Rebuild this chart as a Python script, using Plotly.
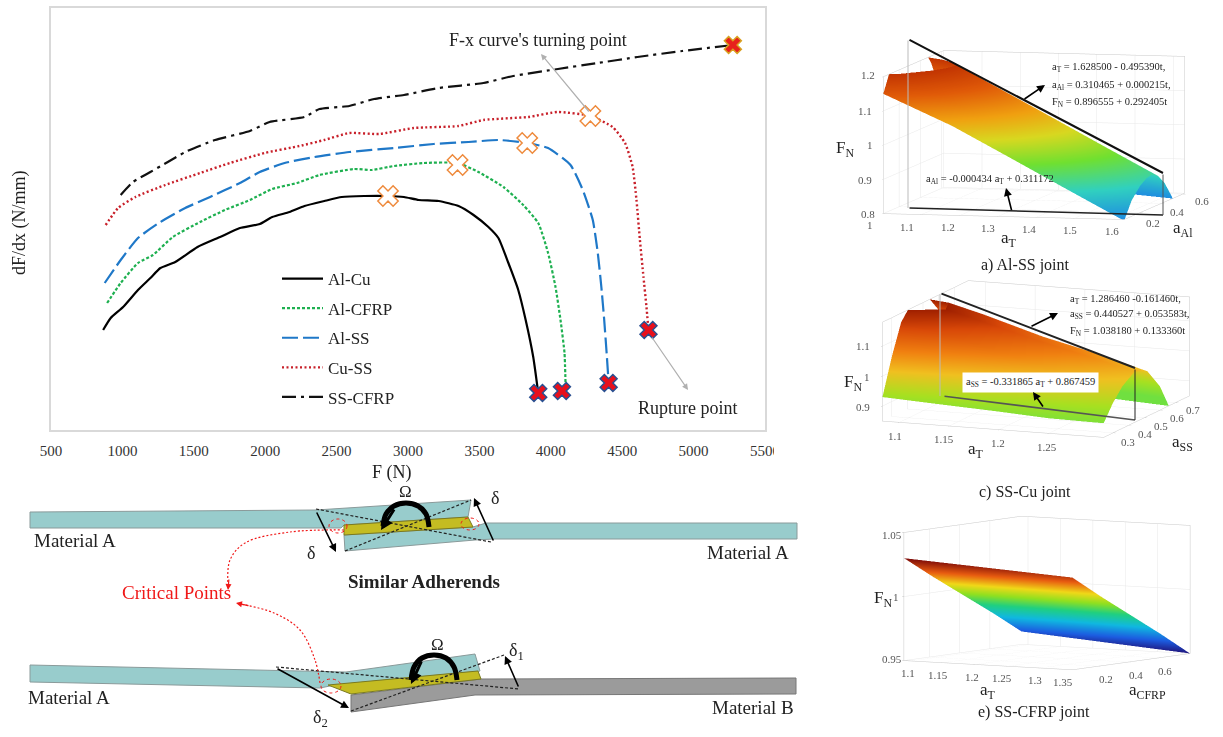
import plotly.graph_objects as go

W, H = 1223, 737
SERIF = "Liberation Serif"

# ---------- main curve chart data (F in N, dF/dx in arbitrary units)
F_AlCu = [865,918,1005,1109,1196,1266,1370,1526,1684,1823,1962,2049,2170,2275,2414,2536,2693,2860,2972,3075,3215,3354,3459,3563,3633,3703,3772,3824,3877,3912]
S_AlCu = [100,112,123,140,152,162,168,183,193,202,206,213,218,224,229,233,234,234,233,230,229,224,215,203,192,167,140,110,73,37]
F_AlCFRP = [893,988,1109,1214,1353,1544,1718,1893,2049,2223,2380,2623,2745,2902,3110,3347,3493,3668,3807,3912,3981,4033,4068,4096,4103]
S_AlCFRP = [127,147,167,175,193,208,220,230,241,247,255,261,260,264,267,267,258,243,225,207,177,143,110,77,47]
F_AlSS = [876,988,1109,1266,1440,1614,1823,1962,2136,2345,2589,2902,3180,3424,3633,3835,3981,4138,4224,4294,4329,4354,4374,4391,4405]
S_AlSS = [147,170,192,208,222,233,247,258,267,273,278,282,286,288,290,287,282,265,240,210,177,143,110,77,47]
F_CuSS = [883,970,1091,1300,1544,1753,1996,2240,2414,2589,2798,3041,3354,3528,3842,4050,4277,4433,4520,4573,4600,4624,4649,4670,4684]
S_CuSS = [205,222,233,245,257,267,277,284,290,297,296,302,304,310,313,318,314,303,287,263,230,190,153,123,100]
F_SSCFRP = [988,1074,1196,1318,1440,1649,1893,2031,2275,2380,2589,2763,2972,3215,3528,3737,4050,4329,4607,4921,5275]
S_SSCFRP = [235,248,258,268,278,290,299,308,313,321,324,331,335,342,347,354,361,367,373,379,385]
TURN_F = [2860,3347,3835,4277]
TURN_S = [234,265,287,314]
RUPT_F = [3912,4078,4405,4684]
RUPT_S = [37,39,47,100]
LAST_F = [5275]
LAST_S = [385]
X_TICKS = [500,1000,1500,2000,2500,3000,3500,4000,4500,5000,5500]

# ---------- surface panels
A_T = [1.0,1.18,1.33,1.48,1.63]
A_AL = [.05,.12,.2,.26,.31,.37,.43,.5,.62]
FN_A = [[1.15,1.215,1.25,1.265,1.27,1.258,1.23,1.18,1.05],
        [1.061,1.111,1.143,1.157,1.161,1.149,1.121,1.071,.941],
        [.973,1.023,1.055,1.069,1.073,1.061,1.033,.983,.853],
        [.884,.934,.966,.98,.984,.972,.944,.894,.764],
        [.796,.846,.878,.892,.896,.884,.856,.806,.676]]
C_T = [1.083,1.14,1.2,1.25,1.305]
C_SS = [.24,.3,.36,.44,.52,.6,.65,.72]
FN_C = [[.93,1.05,1.15,1.206,1.20,1.13,1.05,.94],
        [.92,1.02,1.11,1.16,1.15,1.08,1.01,.90],
        [.91,.99,1.06,1.105,1.09,1.03,.95,.84],
        [.90,.97,1.02,1.065,1.05,.98,.91,.80],
        [.897,.95,.99,1.02,1.0,.93,.86,.75]]
E_T = [1.09,1.22,1.35]
E_CF = [.03,.22,.42,.62,.81]
FN_E = [[1.03,1.0125,.995,.9775,.96],
        [1.026,1.0085,.991,.9735,.955],
        [1.022,1.004,.986,.968,.95]]

# ---------- 3D tick labels: (text, canvas x, canvas y)
TICKS_A = [("1.2",868,75),("1.1",865,111),("1",870,145),("0.9",865,180),("0.8",868,214),
           ("1",870,225),("1.1",907,227),("1.2",948,227),("1.3",988,228),("1.4",1029,229),("1.5",1070,230),("1.6",1112,231),
           ("0.2",1153,223),("0.4",1177,212),("0.6",1202,201)]
TICKS_C = [("1.1",863,346),("1",867,377),("0.9",863,407),
           ("1.1",895,436),("1.15",944,439),("1.2",998,443),("1.25",1047,447),
           ("0.3",1128,442),("0.4",1145,434),("0.5",1161,426),("0.6",1177,418),("0.7",1193,410)]
TICKS_E = [("1.05",892,535),("1",896,597),("0.95",892,659),
           ("1.1",908,673),("1.15",938,675),("1.2",972,677),("1.25",1002,678),("1.3",1035,680),("1.35",1063,682),
           ("0.2",1106,679),("0.4",1136,675),("0.6",1165,671)]
# guide lines drawn over the surfaces: x0, y0, x1, y1, colour, width
GUIDES = [(908,39,1163,173,"#111111",2),(908,208,1163,215,"#222222",1.5),(908,39,908,208,"#bbbbbb",1),(1163,173,1163,215,"#555555",1),
          (940,293,1135,368,"#222222",2),(943,396,1135,420,"#555555",1.5),(1135,368,1135,420,"#222222",1),(940,293,940,396,"#bbbbbb",1)]

# ---------- schematic outlines (canvas pixels)
TOP_UPPER = [(30,512),(316,510),(471,500),(468,517),(344,525),(341,528),(30,528)]
TOP_GLUE = [(344,525),(468,517),(473,527),(344,535)]
TOP_LOWER = [(344,535),(473,527),(486,523),(797,523),(797,539),(494,539),(475,540),(345,551)]
BOT_UPPER = [(30,665),(276,670),(346,672),(475,654),(480,671),(335,685),(320,688),(30,682)]
BOT_GLUE = [(328,685),(478,671),(481,679),(351,694)]
BOT_LOWER = [(351,695),(481,679),(796,678),(796,694),(475,695),(351,712)]
ARC_TOP = [(383,526),(386,514),(394,506),(406,503),(418,506),(426,514),(429,527)]
ARC_BOT = [(411,680),(414,667),(422,658),(434,655),(446,658),(454,667),(457,680)]
DASHES = [[(316,509),(491,542)],[(345,551),(471,500)],[(276,667),(519,689)],[(351,711),(504,655)]]
RED_TOP = [(344,530),(290,532),(245,543),(230,560),(228,585)]
RED_BOT = [(320,683),(315,660),(300,630),(274,613),(240,604)]

fig = go.Figure()

def line_trace(x, y, name, color, dash, width=2.2):
    fig.add_trace(go.Scatter(x=x, y=y, mode="lines", name=name, legendgroup=name,
                             line=dict(color=color, dash=dash, width=width, shape="spline", smoothing=0.5)))

line_trace(F_AlCu, S_AlCu, "Al-Cu", "#000000", "solid")
line_trace(F_AlCFRP, S_AlCFRP, "Al-CFRP", "#1eb050", "3px,2px")
line_trace(F_AlSS, S_AlSS, "Al-SS", "#1f78c8", "16px,5px")
line_trace(F_CuSS, S_CuSS, "Cu-SS", "#c8202a", "2px,2.5px", 2.4)
line_trace(F_SSCFRP, S_SSCFRP, "SS-CFRP", "#111111", "14px,5px,3px,5px")

fig.add_trace(go.Scatter(x=TURN_F, y=TURN_S, mode="markers", showlegend=False,
    marker=dict(symbol="x", size=18, color="white", line=dict(color="#ee8a3c", width=1.5))))
fig.add_trace(go.Scatter(x=RUPT_F, y=RUPT_S, mode="markers", showlegend=False,
    marker=dict(symbol="x", size=15, color="#e8101c", line=dict(color="#2a4f90", width=1.5))))
fig.add_trace(go.Scatter(x=LAST_F, y=LAST_S, mode="markers", showlegend=False,
    marker=dict(symbol="x", size=15, color="#e8201c", line=dict(color="#d8a020", width=1.5))))

# ---------- schematic on a full-canvas overlay axis
def poly(pts, fill, edge="#8a9a9a"):
    fig.add_trace(go.Scatter(x=[p[0] for p in pts]+[pts[0][0]], y=[p[1] for p in pts]+[pts[0][1]],
        mode="lines", fill="toself", fillcolor=fill, line=dict(color=edge, width=1),
        xaxis="x2", yaxis="y2", showlegend=False, hoverinfo="skip"))

def path(pts, color, width, dash="solid", spline=False):
    fig.add_trace(go.Scatter(x=[p[0] for p in pts], y=[p[1] for p in pts], mode="lines",
        line=dict(color=color, width=width, dash=dash, shape="spline" if spline else "linear"),
        xaxis="x2", yaxis="y2", showlegend=False, hoverinfo="skip"))

TEAL, GLUE, GREY = "#98cccc", "#c4bc22", "#9b9b9b"
poly(TOP_UPPER, TEAL); poly(TOP_LOWER, TEAL); poly(TOP_GLUE, GLUE, "#7a7a20")
poly(BOT_UPPER, TEAL); poly(BOT_LOWER, GREY, "#777777"); poly(BOT_GLUE, GLUE, "#7a7a20")
for d in DASHES:
    path(d, "#222222", 1.2, "3px,2px")
path(ARC_TOP, "#000000", 5, spline=True)
path(ARC_BOT, "#000000", 5, spline=True)
path(RED_TOP, "#f01818", 1.2, "2px,2px", True)
path(RED_BOT, "#f01818", 1.2, "2px,2px", True)

shapes = []
for cx, cy, rx, ry in [(338,526,9,7),(470,524,9,6),(331,686,10,7)]:
    shapes.append(dict(type="circle", xref="x2", yref="y2", x0=cx-rx, x1=cx+rx, y0=cy-ry, y1=cy+ry,
                       line=dict(color="#f01818", width=1, dash="dot")))
# crop of the last tick label, as in the reference
shapes.append(dict(type="rect", xref="paper", yref="paper", x0=774/W, x1=800/W, y0=1-462/H, y1=1-440/H,
                   fillcolor="white", line=dict(width=0), layer="above"))

# ---------- surfaces
def surface(x, y, z, scene, cscale, cmin, cmax):
    fig.add_trace(go.Surface(x=x, y=y, z=[list(r) for r in zip(*z)], scene=scene, colorscale=cscale,
        cmin=cmin, cmax=cmax, showscale=False, hoverinfo="skip",
        lighting=dict(ambient=1, diffuse=0, specular=0, roughness=1, fresnel=0)))

surface(A_T, A_AL, FN_A, "scene",
        [[0,"#1f8fe0"],[.18,"#30d0c0"],[.36,"#70e030"],[.52,"#d8d820"],[.66,"#f0a010"],[.82,"#e05a08"],[1,"#b82800"]],
        .8, 1.22)
surface(C_T, C_SS, FN_C, "scene2",
        [[0,"#70e040"],[.2,"#a8e020"],[.42,"#f0c020"],[.62,"#f08010"],[.84,"#d84808"],[1,"#a02000"]],
        .88, 1.18)
surface(E_T, E_CF, FN_E, "scene3",
        [[0,"#201880"],[.14,"#1c5ce0"],[.3,"#10b8e0"],[.45,"#20d080"],[.58,"#90e020"],[.7,"#f0d818"],[.84,"#e85c10"],[1,"#7c0a08"]],
        .95, 1.03)

def ax3(rng, ticks):
    return dict(range=rng, tickvals=ticks, title=dict(text=""), showbackground=False, showspikes=False,
                showgrid=True, gridcolor="#e8e8e8", gridwidth=1, showline=True, linecolor="#c8c8c8",
                mirror=True, zeroline=False, showticklabels=False,
                ticks="outside", ticklen=3, tickcolor="#bbbbbb")

def dom(cx, cy, hw=172, hh=108):
    return dict(x=[(cx-hw)/W, (cx+hw)/W], y=[1-(cy+hh)/H, 1-(cy-hh)/H])

def cam(e, k):
    return dict(eye=dict(x=e[0]*k, y=e[1]*k, z=e[2]*k), up=dict(x=0,y=0,z=1), center=dict(x=0,y=0,z=0),
                projection=dict(type="orthographic"))

GA, GC, GE = 1.82, 1.81, 1.89
layout = dict(
    width=W, height=H, margin=dict(l=0,r=0,t=0,b=0), paper_bgcolor="white", plot_bgcolor="rgba(0,0,0,0)",
    font=dict(family=SERIF, color="#222222"),
    xaxis=dict(domain=[51/W,765/W], range=[500,5500], tickvals=X_TICKS, showgrid=False, zeroline=False, automargin=False,
               showline=True, mirror=True, linecolor="#d9d9d9", linewidth=1.5, ticks="", ticklabelstandoff=6,
               tickfont=dict(size=15, color="#333333"), anchor="y"),
    yaxis=dict(domain=[1-430/H,1-8/H], range=[0,422], showticklabels=False, showgrid=False, zeroline=False, automargin=False,
               showline=True, mirror=True, linecolor="#d9d9d9", linewidth=1.5, ticks="", anchor="x"),
    xaxis2=dict(domain=[0,1], range=[0,W], visible=False, anchor="y2", automargin=False),
    yaxis2=dict(domain=[0,1], range=[H,0], visible=False, anchor="x2", automargin=False),
    legend=dict(x=277/W, y=1-261/H, xanchor="left", yanchor="top", bgcolor="rgba(0,0,0,0)", itemwidth=41,
                tracegroupgap=4.5, font=dict(family=SERIF, size=17, color="#222222")),
    scene=dict(domain=dom(1034,135), aspectmode="manual", aspectratio=dict(x=1.26*GA,y=1.335*GA,z=.7*GA),
               camera=cam((.23,-.97,.103),4),
               xaxis=ax3([1.0,1.63],[1,1.1,1.2,1.3,1.4,1.5,1.6]), yaxis=ax3([.05,.62],[.2,.4,.6]),
               zaxis=ax3([.8,1.2],[.8,.9,1,1.1,1.2]), bgcolor="rgba(0,0,0,0)"),
    scene2=dict(domain=dom(1036,359), aspectmode="manual", aspectratio=dict(x=1.215*GC,y=1.21*GC,z=.515*GC),
               camera=cam((.363,-.931,.192),4),
               xaxis=ax3([1.083,1.305],[1.1,1.15,1.2,1.25]), yaxis=ax3([.24,.79],[.3,.4,.5,.6,.7]),
               zaxis=ax3([.85,1.18],[.9,1,1.1]), bgcolor="rgba(0,0,0,0)"),
    scene3=dict(domain=dom(1047,593), aspectmode="manual", aspectratio=dict(x=.975*GE,y=1.085*GE,z=.63*GE),
               camera=cam((.531,-.847,.087),4),
               xaxis=ax3([1.09,1.35],[1.1,1.15,1.2,1.25,1.3,1.35]), yaxis=ax3([.03,.81],[.2,.4,.6]),
               zaxis=ax3([.95,1.05],[.95,1,1.05]), bgcolor="rgba(0,0,0,0)"),
    shapes=shapes,
)

def T(px, py, text, size=14, color="#222222", anchor="center", **kw):
    return dict(xref="paper", yref="paper", x=px/W, y=1-py/H, text=text, showarrow=False, xanchor=anchor,
                yanchor="middle", font=dict(family=SERIF, size=size, color=color), **kw)

def A(x0, y0, x1, y1, color="#000000", width=1.6, head=2, size=1):
    return dict(xref="paper", yref="paper", axref="pixel", ayref="pixel", x=x1/W, y=1-y1/H, ax=x0-x1, ay=y0-y1,
                text="", showarrow=True, arrowhead=head, arrowsize=size, arrowwidth=width, arrowcolor=color)

ann = [
    T(392,472,"F (N)",18), T(19,223,"dF/dx (N/mm)",18,textangle=-90),
    T(538,40,"F-x curve's turning point",18), T(688,408,"Rupture point",18),
    A(590,113,541,54,"#b0b0b0",1.2), A(651,336,688,390,"#b0b0b0",1.2),
    T(75,540,"Material A",19), T(748,552,"Material A",19), T(69,697,"Material A",19), T(753,707,"Material B",19),
    T(424,581,"<b>Similar Adherends</b>",19), T(177,592,"Critical Points",19,"#f01818"),
    T(405,492,"Ω",17), T(437,644,"Ω",17), T(311,553,"δ",18), T(495,498,"δ",18),
    T(516,651,"δ<sub>1</sub>",18), T(320,718,"δ<sub>2</sub>",18),
    A(316,511,336,552), A(494,542,474,498), A(276,668,349,708), A(519,688,505,656),
    A(395,508,381,530,"#000000",3,2,.8), A(422,660,411,684,"#000000",3,2,.8),
    A(229,578,228,590,"#f01818",1.2), A(250,606,236,603,"#f01818",1.2),
    # panel a
    T(1025,265,"a) Al-SS joint",16), T(845,149,"F<sub>N</sub>",17), T(1009,239,"a<sub>T</sub>",17), T(1183,229,"a<sub>Al</sub>",17),
    T(1050,67,"a<sub>T</sub> = 1.628500 - 0.495390t,",10.5,anchor="left"),
    T(1050,85,"a<sub>Al</sub> = 0.310465 + 0.000215t,",10.5,anchor="left"),
    T(1050,102,"F<sub>N</sub> = 0.896555 + 0.292405t",10.5,anchor="left"),
    T(924,179,"a<sub>Al</sub> = -0.000434 a<sub>T</sub> + 0.311172",10.5,anchor="left"),
    A(1023,100,1045,85), A(1012,212,1006,188),
    # panel c
    T(1025,492,"c) SS-Cu joint",16), T(853,383,"F<sub>N</sub>",17), T(976,450,"a<sub>T</sub>",17), T(1182,443,"a<sub>SS</sub>",17),
    T(1068,299,"a<sub>T</sub> = 1.286460 -0.161460t,",10.5,anchor="left"),
    T(1068,315,"a<sub>SS</sub> = 0.440527 + 0.053583t,",10.5,anchor="left"),
    T(1068,332,"F<sub>N</sub> = 1.038180 + 0.133360t",10.5,anchor="left"),
    T(1030,382,"a<sub>SS</sub> = -0.331865 a<sub>T</sub> + 0.867459",10.5,bgcolor="white",borderpad=3),
    A(1030,327,1058,313), A(1044,408,1033,392),
    # panel e
    T(1034,712,"e) SS-CFRP joint",16), T(883,599,"F<sub>N</sub>",17), T(988,691,"a<sub>T</sub>",17), T(1147,691,"a<sub>CFRP</sub>",17),
]
for txt, px, py in TICKS_A + TICKS_C + TICKS_E:
    ann.append(T(px, py, txt, 11, "#555555"))
for g in GUIDES:
    ann.append(A(g[0], g[1], g[2], g[3], g[4], g[5], 0))
layout["annotations"] = ann
fig.update_layout(**layout)
fig.write_html("out.html", post_script="document.body.style.margin='0';", config=dict(displayModeBar=False))
